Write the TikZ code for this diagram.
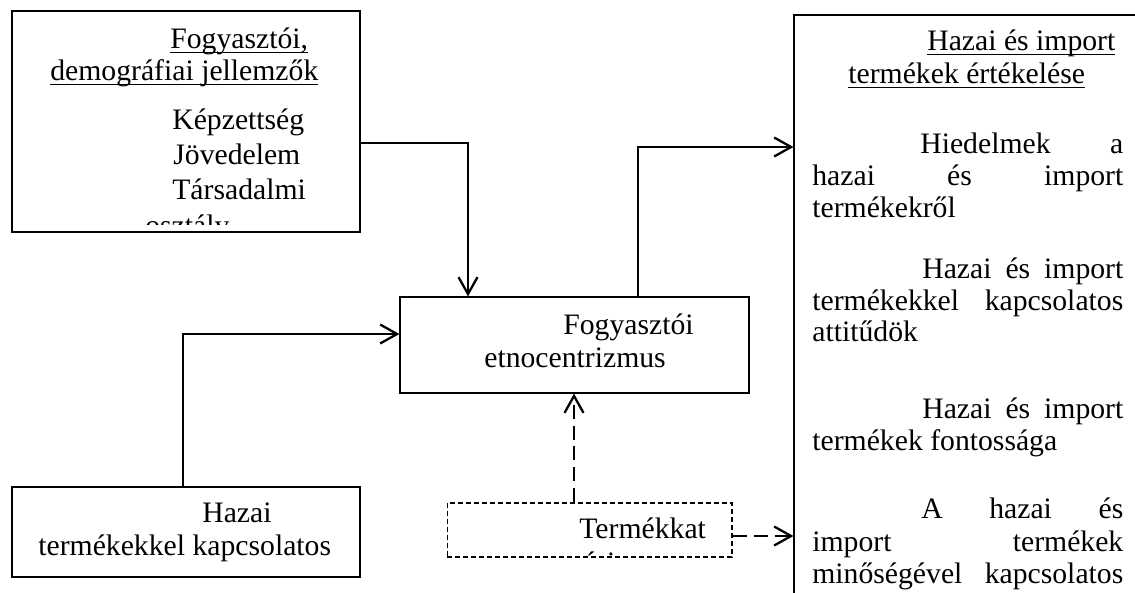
\documentclass[tikz,border=0pt]{standalone}
\usepackage{fontspec}
\setmainfont{Liberation Serif}
\usetikzlibrary{arrows.meta, positioning}
\newcommand{\undl}[1]{\setbox0=\hbox{#1}\rlap{\rule[-0.1cm]{\wd0}{0.03cm}}\box0}
\newcommand{\jline}[2]{\makebox[#1][s]{#2}}

\begin{document}
\begin{tikzpicture}[x=0.02cm, y=-0.02cm,
    box/.style={draw, line width=0.65pt, inner sep=0pt},
    dbox/.style={draw, line width=0.6pt, inner sep=0pt, dash pattern=on 0.1cm off 0.06cm},
    txt/.style={font=\fontsize{16.9}{20}\selectfont, inner sep=0pt, anchor=base west},
    arr/.style={-{Straight Barb[length=0.34cm, width=0.38cm]}, line width=1.3pt},
    darr/.style={arr, dash pattern=on 0.28cm off 0.14cm}
  ]
    \useasboundingbox (0,0) rectangle (1135,592);
    \clip (0,0) rectangle (1135,592);
    % boxes
    \node[box, minimum width=6.96cm, minimum height=4.42cm] (demog) at (186,121.5) {};
    \node[box, minimum width=6.98cm, minimum height=1.92cm] (etno) at (574.5,345) {};
    \node[box, minimum width=6.96cm, minimum height=1.8cm] (hazai) at (186,532) {};
    \node[dbox, minimum width=5.7cm, minimum height=1.08cm] (termek) at (589.5,530) {};
    \node[box, minimum width=8cm, minimum height=12.6cm] (ertek) at (994,330) {};
    % texts
    \begin{scope}
      \clip (12,11) rectangle (360,224);
      \node[txt] (d1) at (170,48) {\undl{Fogyasztói,}};
      \node[txt] (d2) at (50,80) {\undl{demográfiai jellemzők}};
      \node[txt] (d3) at (172,129) {Képzettség};
      \node[txt] (d4) at (173,164) {Jövedelem};
      \node[txt] (d5) at (172,199) {Társadalmi};
      \node[txt] (d6) at (145,235) {osztály};
    \end{scope}
    \node[txt] (e1) at (563,334) {Fogyasztói};
    \node[txt] (e2) at (484,367) {etnocentrizmus};
    \node[txt] (h1) at (202,522) {Hazai};
    \node[txt] (h2) at (38,555) {termékekkel kapcsolatos};
    \begin{scope}
      \clip (447,503) rectangle (732,555);
      \node[txt] (k1) at (579,538) {Termékkat};
      \node[txt] (k2) at (554,572) {egória};
    \end{scope}
    \node[txt] (r1) at (927,50) {\undl{Hazai és import}};
    \node[txt] (r2) at (848,83) {\undl{termékek értékelése}};
    \node[txt] (r3) at (920,153) {\jline{4.06cm}{Hiedelmek a}};
    \node[txt] (r4) at (812,185) {\jline{6.22cm}{hazai és import}};
    \node[txt] (r5) at (812,217) {termékekről};
    \node[txt] (r6) at (922,278) {\jline{4.02cm}{Hazai és import}};
    \node[txt] (r7) at (812,310) {\jline{6.22cm}{termékekkel kapcsolatos}};
    \node[txt] (r8) at (812,341) {attitűdök};
    \node[txt] (r9) at (922,418) {\jline{4.02cm}{Hazai és import}};
    \node[txt] (r10) at (812,450) {termékek fontossága};
    \node[txt] (r11) at (921,518) {\jline{4.04cm}{A hazai és}};
    \node[txt] (r12) at (812,551) {\jline{6.22cm}{import termékek}};
    \node[txt] (r13) at (812,583) {\jline{6.22cm}{minőségével kapcsolatos}};
    % connectors
    \draw[arr] (demog.east |- 0,143) -| (468,0 |- etno.north);
    \draw[arr] (638,0 |- etno.north) |- (ertek.west |- 0,147);
    \draw[arr] (183,0 |- hazai.north) |- (etno.west |- 0,334);
    \draw[darr] (574,0 |- termek.north) -- (574,0 |- etno.south);
    \draw[darr] (termek.east |- 0,536) -- (ertek.west |- 0,536);
  \end{tikzpicture}
\end{document}
